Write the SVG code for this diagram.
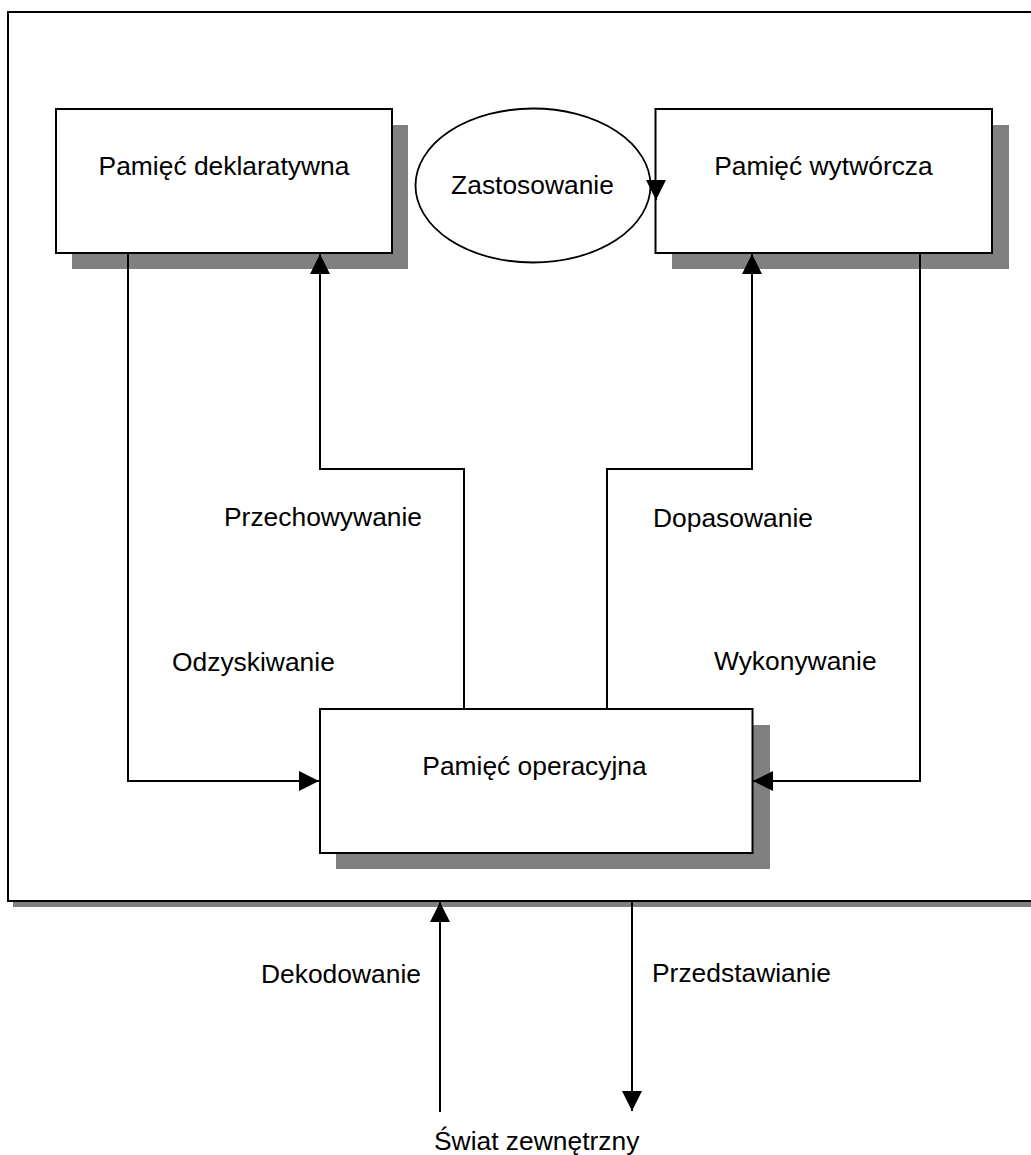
<svg xmlns="http://www.w3.org/2000/svg" width="1031" height="1155" viewBox="0 0 1031 1155">
  <style>
    .box { fill: #ffffff; stroke: #000000; stroke-width: 2; }
    .shadow { fill: #808080; stroke: none; }
    .conn { fill: none; stroke: #000000; stroke-width: 2; }
    .lbl { font-family: "Liberation Sans", Arial, sans-serif; font-size: 26.4px; fill: #000000; }
    .mid { text-anchor: middle; }
  </style>
  <defs>
    <marker id="arrow" markerUnits="userSpaceOnUse" markerWidth="20" markerHeight="20" viewBox="0 0 20 20" refX="20" refY="10" orient="auto">
      <path d="M0,0 L20,10 L0,20 Z" fill="#000000"/>
    </marker>
  </defs>
  <rect width="1031" height="1155" fill="#ffffff"/>

  <g id="frame">
    <rect class="shadow" x="13" y="17" width="1040" height="890"/>
    <rect class="box" x="8" y="12" width="1040" height="889"/>
  </g>

  <g id="node-deklaratywna">
    <rect class="shadow" x="72" y="125" width="336" height="144"/>
    <rect class="box" x="56" y="109" width="336" height="144"/>
    <text class="lbl mid" x="224" y="175">Pamięć deklaratywna</text>
  </g>

  <g id="node-zastosowanie">
    <ellipse cx="533" cy="185.5" rx="117.5" ry="77" fill="#ffffff" stroke="#000000" stroke-width="1.8"/>
    <text class="lbl mid" x="532.5" y="194">Zastosowanie</text>
  </g>

  <g id="node-wytworcza">
    <rect class="shadow" x="672" y="125" width="337" height="144"/>
    <rect class="box" x="655.5" y="109" width="336.5" height="144"/>
    <text class="lbl mid" x="823.5" y="175">Pamięć wytwórcza</text>
  </g>

  <g id="node-operacyjna">
    <rect class="shadow" x="336" y="725" width="434" height="144"/>
    <rect class="box" x="320" y="709" width="432.5" height="144"/>
    <text class="lbl mid" x="534.5" y="775">Pamięć operacyjna</text>
  </g>

  <g id="node-swiat">
    <text class="lbl" x="434" y="1150">Świat zewnętrzny</text>
  </g>

  <g id="connectors">
    <path class="conn" d="M464,709 V469 H320 V254" marker-end="url(#arrow)"/>
    <path class="conn" d="M607,709 V469 H752 V254" marker-end="url(#arrow)"/>
    <path class="conn" d="M128,253 V781 H319" marker-end="url(#arrow)"/>
    <path class="conn" d="M920,253 V781 H753" marker-end="url(#arrow)"/>
    <path class="conn" d="M656,186 V200" marker-end="url(#arrow)"/>
    <path class="conn" d="M440,1112 V902" marker-end="url(#arrow)"/>
    <path class="conn" d="M632,901 V1111" marker-end="url(#arrow)"/>
  </g>

  <g id="labels">
    <text class="lbl" x="224" y="526">Przechowywanie</text>
    <text class="lbl" x="172" y="671">Odzyskiwanie</text>
    <text class="lbl" x="653" y="527">Dopasowanie</text>
    <text class="lbl" x="714" y="670">Wykonywanie</text>
    <text class="lbl" x="261" y="983">Dekodowanie</text>
    <text class="lbl" x="652" y="982">Przedstawianie</text>
  </g>
</svg>
